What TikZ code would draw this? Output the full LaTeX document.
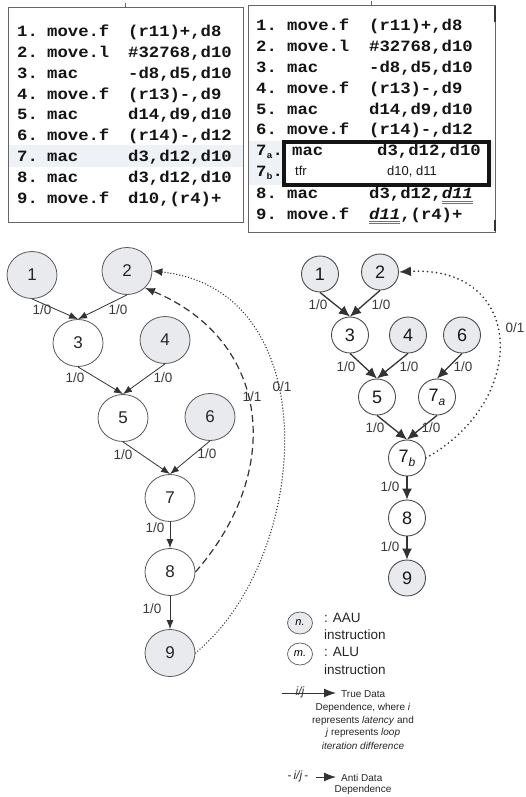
\documentclass[tikz,border=0pt]{standalone}
\usepackage{fontspec}
\setmainfont{Liberation Sans}
\newfontfamily\codefont[FakeStretch=1.1]{Liberation Mono}
\usetikzlibrary{shapes.geometric,arrows.meta}
\definecolor{nodegray}{HTML}{E8EAEE}
\definecolor{edgec}{HTML}{333333}
\definecolor{band}{HTML}{EEF1F5}
\definecolor{labc}{HTML}{3A3A3A}
\newcommand\codeL[3]{\makebox[30pt][l]{#1}\makebox[81pt][l]{#2}#3}
\newcommand\codeR[3]{\makebox[31pt][l]{#1}\makebox[82pt][l]{#2}#3}
\newcommand\myul[1]{\setbox0\hbox{#1}\rlap{\color{black!55}\rule[-3pt]{\wd0}{0.9pt}}\rlap{\color{black!55}\rule[-5pt]{\wd0}{0.9pt}}\box0}
\newcommand\subsc[1]{\raisebox{-3pt}{\fontsize{9}{9}\selectfont #1}}
\tikzset{
 code/.style={anchor=base west, inner sep=0pt, font=\codefont\bfseries\fontsize{15.7}{18}\selectfont, text=black!92},
 sanscode/.style={anchor=base west, inner sep=0pt, font=\fontsize{13}{15}\selectfont, text=black!90},
 lnode/.style={ellipse, draw=black!65, line width=0.8pt, minimum width=50pt, minimum height=47pt, inner sep=0pt, font=\fontsize{17}{20}\selectfont, text=black!85},
 lgray/.style={lnode, fill=nodegray},
 rnode/.style={ellipse, draw=black!70, line width=0.9pt, minimum width=37pt, minimum height=36pt, inner sep=0pt, font=\fontsize{18}{20}\selectfont, text=black!90},
 rgray/.style={rnode, fill=nodegray},
 ledge/.style={draw=edgec, line width=0.8pt, -{Latex[length=9pt,width=7pt]}},
 redge/.style={draw=edgec, line width=1.3pt, -{Latex[length=11pt,width=10pt]}},
 elab/.style={inner sep=0pt, font=\fontsize{13.5}{15}\selectfont, text=labc},
 legtxt/.style={inner sep=0pt, font=\fontsize{13.5}{15}\selectfont, text=black!85, anchor=west},
 smalltxt/.style={inner sep=0pt, font=\fontsize{10}{12}\selectfont, text=black!85},
 legnode/.style={ellipse, draw=black!65, line width=0.7pt, minimum width=25pt, minimum height=22pt, inner sep=0pt, font=\fontsize{11}{12}\selectfont\itshape},
}
\begin{document}
\begin{tikzpicture}[x=1pt,y=-1pt]
\useasboundingbox[fill=white] (0,0) rectangle (526,797);

% ---------- left code box
\fill[band] (8,145) rectangle (243,167);
\draw[black!60, line width=0.8pt] (8,7) rectangle (243,222);
\draw[black!60, line width=0.8pt] (125,7) -- (125,3);
\node[code] (l1) at (17,37) {\codeL{1.}{move.f}{(r11)+,d8}};
\node[code] (l2) at (17,57.8) {\codeL{2.}{move.l}{\#32768,d10}};
\node[code] (l3) at (17,78.5) {\codeL{3.}{mac}{-d8,d5,d10}};
\node[code] (l4) at (17,99.3) {\codeL{4.}{move.f}{(r13)-,d9}};
\node[code] (l5) at (17,120) {\codeL{5.}{mac}{d14,d9,d10}};
\node[code] (l6) at (17,140.8) {\codeL{6.}{move.f}{(r14)-,d12}};
\node[code] (l7) at (17,161.5) {\codeL{7.}{mac}{d3,d12,d10}};
\node[code] (l8) at (17,182.3) {\codeL{8.}{mac}{d3,d12,d10}};
\node[code] (l9) at (17,203) {\codeL{9.}{move.f}{d10,(r4)+}};

% ---------- right code box
\fill[band] (248,141) rectangle (494,185);
\draw[black!60, line width=0.8pt] (248,5) rectangle (495,232);
\draw[black!60, line width=0.8pt] (371,5) -- (371,1);
\draw[black!80, line width=1.6pt] (495,6) -- (495,22);
\draw[black!80, line width=1.6pt] (495,220) -- (495,231);
\draw[fill=white, line width=3.5pt, draw=black!92] (284,142) rectangle (489,185);
\node[code] (r1) at (256,31) {\codeR{1.}{move.f}{(r11)+,d8}};
\node[code] (r2) at (256,52) {\codeR{2.}{move.l}{\#32768,d10}};
\node[code] (r3) at (256,72.5) {\codeR{3.}{mac}{-d8,d5,d10}};
\node[code] (r4) at (256,93.5) {\codeR{4.}{move.f}{(r13)-,d9}};
\node[code] (r5) at (256,114) {\codeR{5.}{mac}{d14,d9,d10}};
\node[code] (r6) at (256,134.5) {\codeR{6.}{move.f}{(r14)-,d12}};
\node[code] (r7an) at (256,155.5) {7\subsc{a}.};
\node[code] (r7am) at (292,155.5) {mac};
\node[code] (r7ao) at (377,155.5) {d3,d12,d10};
\node[code] (r7bn) at (256,176.5) {7\subsc{b}.};
\node[sanscode] (r7bm) at (295,175) {tfr};
\node[sanscode] (r7bo) at (387,175) {d10, d11};
\node[code] (r8) at (256,198.5) {\codeR{8.}{mac}{d3,d12,\myul{\itshape d11}}};
\node[code] (r9) at (256,219) {\codeR{9.}{move.f}{\myul{\itshape d11},(r4)+}};

% ---------- left graph
\node[lgray] (L1) at (32,275) {1};
\node[lgray] (L2) at (127,271) {2};
\node[lnode] (L3) at (78,343) {3};
\node[lgray] (L4) at (165,340) {4};
\node[lnode] (L5) at (123,418) {5};
\node[lgray] (L6) at (210,417) {6};
\node[lnode] (L7) at (170,498) {7};
\node[lnode] (L8) at (170,572) {8};
\node[lgray] (L9) at (170,653) {9};

\draw[ledge] (L1.south) -- (L3.north);
\draw[ledge] (L2.south) -- (L3.north);
\draw[ledge] (L3.south) -- (L5.north);
\draw[ledge] (L4.south) -- (L5.north);
\draw[ledge] (L5.south) -- (L7.north);
\draw[ledge] (L6.south) -- (L7.north);
\draw[ledge] (L7.south) -- (L8.north);
\draw[ledge] (L8.south) -- (L9.north);
\draw[draw=edgec, line width=1.2pt, dash pattern=on 7pt off 4pt, -{Latex[length=10pt,width=8pt]}]
  (L8.east) .. controls (285,470) and (270,340) .. (L2.south east);
\draw[draw=edgec, line width=1.5pt, line cap=round, dash pattern=on 0pt off 3pt, -{Latex[length=10pt,width=8pt]}]
  (L9.east) .. controls (310,560) and (330,290) .. (L2.east);

\node[elab] (la13) at (42,310) {1/0};
\node[elab] (la23) at (118,310) {1/0};
\node[elab] (la35) at (75,378) {1/0};
\node[elab] (la45) at (163,378) {1/0};
\node[elab] (la57) at (123,455) {1/0};
\node[elab] (la67) at (207,454) {1/0};
\node[elab] (la78) at (155,528) {1/0};
\node[elab] (la89) at (152,609) {1/0};
\node[elab] (la82) at (252,397) {1/1};
\node[elab] (la92) at (282,387) {0/1};

% ---------- right graph
\node[rgray] (R1) at (320,274) {1};
\node[rgray] (R2) at (380,272) {2};
\node[rnode] (R3) at (350,335) {3};
\node[rgray] (R4) at (408,335) {4};
\node[rgray] (R6) at (462,335) {6};
\node[rnode] (R5) at (377,397) {5};
\node[rnode] (R7a) at (437,397) {7\raisebox{-4pt}{\fontsize{12}{12}\selectfont\itshape a}};
\node[rnode] (R7b) at (407,458) {7\raisebox{-4pt}{\fontsize{12}{12}\selectfont\itshape b}};
\node[rnode] (R8) at (407,518) {8};
\node[rgray] (R9) at (407,578) {9};

\draw[redge] (R1.south) -- (R3.north);
\draw[redge] (R2.south) -- (R3.north);
\draw[redge] (R3.south) -- (R5.north);
\draw[redge] (R4.south) -- (R5.north);
\draw[redge] (R6.south) -- (R7a.north);
\draw[redge] (R5.south) -- (R7b.north);
\draw[redge] (R7a.south) -- (R7b.north);
\draw[redge] (R7b.south) -- (R8.north);
\draw[redge] (R8.south) -- (R9.north);
\draw[draw=edgec, line width=1.9pt, line cap=round, dash pattern=on 0pt off 4.5pt, -{Latex[length=12pt,width=10pt]}]
  (R7b.east) .. controls (530,400) and (525,265) .. (R2.east);

\node[elab] (ra13) at (318,305) {1/0};
\node[elab] (ra23) at (381,305) {1/0};
\node[elab] (ra35) at (346,367) {1/0};
\node[elab] (ra45) at (409,367) {1/0};
\node[elab] (ra67) at (463,367) {1/0};
\node[elab] (ra57) at (375,428) {1/0};
\node[elab] (ra77) at (431,428) {1/0};
\node[elab] (ra78) at (390,487) {1/0};
\node[elab] (ra89) at (390,547) {1/0};
\node[elab] (ra72) at (515,328) {0/1};

% ---------- legend
\node[legnode, fill=nodegray] (gn) at (300,623) {n.};
\node[legtxt] (gaau) at (324,618) {: AAU};
\node[legtxt] (gaau2) at (324,635) {instruction};
\node[legnode, fill=white] (gm) at (300,654) {m.};
\node[legtxt] (galu) at (324,652) {: ALU};
\node[legtxt] (galu2) at (324,670) {instruction};

\coordinate (t0) at (282,693);
\coordinate (t1) at (336,693);
\draw[edgec, line width=1pt, -{Latex[length=12pt,width=9pt]}] (t0) -- (t1);
\node[inner sep=0pt, font=\fontsize{12}{12}\selectfont\itshape, text=black!80] (tij) at (300,692) {i/j};
\node[smalltxt, anchor=west] (ttd) at (341,694) {True Data};
\node[smalltxt] (td1) at (363,708) {Dependence, where \textit{i}};
\node[smalltxt] (td2) at (363,720.5) {represents \textit{latency} and};
\node[smalltxt] (td3) at (363,733) {\textit{j} represents \textit{loop}};
\node[smalltxt] (td4) at (363,745.5) {\textit{iteration difference}};

\node[inner sep=0pt, font=\fontsize{12}{12}\selectfont, text=black!80] (aij) at (298,776) {-\,\textit{i/j}\,-};
\coordinate (a0) at (316,777);
\coordinate (a1) at (336,777);
\draw[edgec, line width=1pt, -{Latex[length=12pt,width=9pt]}] (a0) -- (a1);
\node[smalltxt, anchor=west] (atd) at (341,777.5) {Anti Data};
\node[smalltxt] (atd2) at (363,790) {Dependence};
\end{tikzpicture}
\end{document}
